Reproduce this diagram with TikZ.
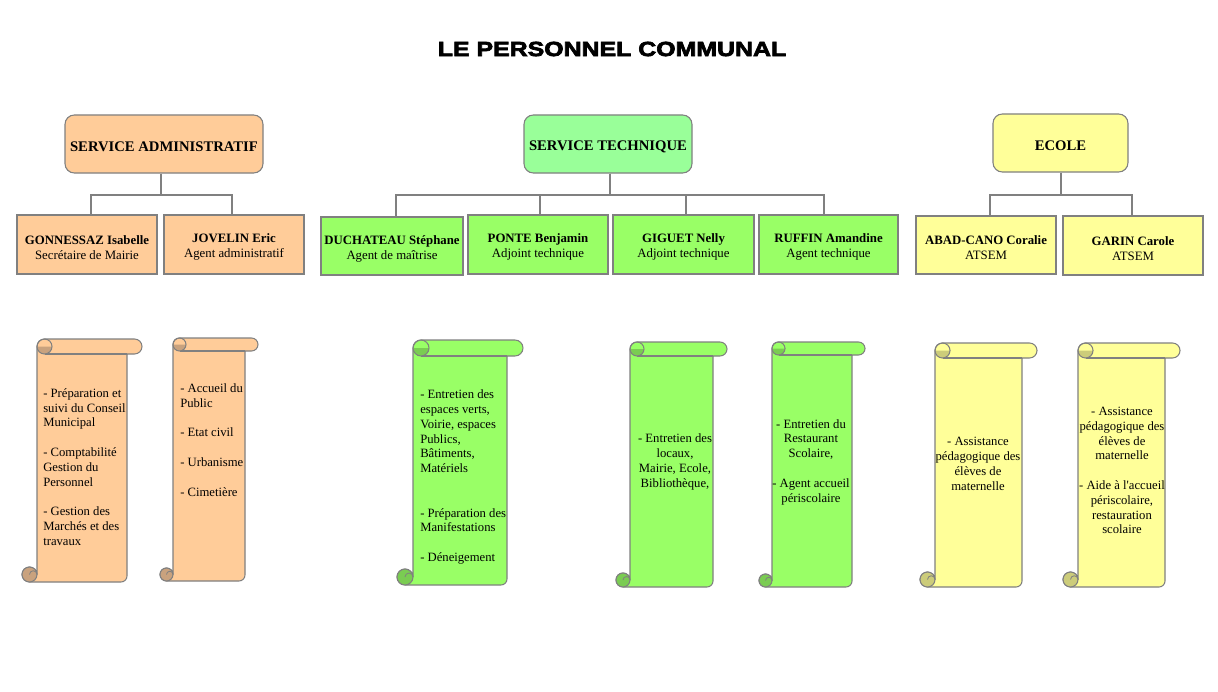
\documentclass[tikz,border=0pt]{standalone}
\usepackage{fontspec}
\setmainfont{Liberation Serif}
\newfontfamily\titlefont{Liberation Sans}[UprightFont=* Bold, FakeStretch=1.22, FakeBold=3.5]
\definecolor{peach}{HTML}{FFCC99}
\definecolor{peachD}{HTML}{C9A27E}
\definecolor{lgreen}{HTML}{99FF99}
\definecolor{green2}{HTML}{99FF66}
\definecolor{greenD}{HTML}{7ACC52}
\definecolor{yel}{HTML}{FFFF99}
\definecolor{yelD}{HTML}{CCCC7A}
\definecolor{edge}{HTML}{808080}
\newcommand\vscroll[7]{% L T R B h fill dark
  \filldraw[draw=edge, fill=#6, line width=0.8pt]
    (#1,{#2+#5/2}) arc[start angle=180,end angle=270,radius=#5/2]
    -- ({#3-#5/2},#2) arc[start angle=270,end angle=450,radius=#5/2]
    -- ({#3-#5},{#2+#5}) -- ({#3-#5},{#4-6}) arc[start angle=0,end angle=90,radius=6]
    -- ({#1-#5/2},#4) arc[start angle=90,end angle=360,radius=#5/2] -- cycle;
  \draw[edge, line width=0.8pt] ({#1+#5/2},{#2+#5}) -- ({#3-#5},{#2+#5});
  \fill[#7] (#1,{#2+#5/2}) arc[start angle=180,end angle=0,radius=#5/2] -- cycle;
  \draw[edge, line width=0.8pt] ({#1+#5/2},{#2+#5/2}) circle[radius=#5/2];
  \filldraw[draw=edge, fill=#7, line width=0.8pt] ({#1-#5/2},{#4-#5/2}) circle[radius=#5/2];
  \draw[edge, line width=0.6pt] ({#1-#5/2},{#4-#5/2}) arc[start angle=180,end angle=360,radius=#5/4];
}
\newcommand\hs{\rule{0pt}{11.8pt}}
\newcommand\ps{\rule{0pt}{11pt}}
\tikzset{
  sz/.style 2 args={minimum width=#1*0.75pt, minimum height=#2*0.75pt},
  head/.style={draw=edge, line width=0.8pt, rounded corners=7pt, inner sep=0pt,
    font=\fontsize{11}{13}\selectfont\bfseries},
  person/.style={draw=edge, line width=0.8pt, inner sep=0pt, align=center,
    font=\fontsize{9.6}{11.25}\selectfont},
  stxt/.style={inner sep=0pt, font=\fontsize{9.5}{11.1}\selectfont},
  link/.style={draw=edge, line width=0.8pt},
}
\begin{document}
\begin{tikzpicture}[x=0.75pt, y=-0.75pt]
\useasboundingbox[fill=white] (0,0) rectangle (1218,692);

\node[font=\titlefont\fontsize{15.3}{18}\selectfont] (title) at (612,49) {LE PERSONNEL COMMUNAL};

% headers
\node[head, fill=peach, sz={198}{58}] (adm) at (164,144) {\hs SERVICE ADMINISTRATIF};
\node[head, fill=lgreen, sz={168}{58}] (tec) at (608,144) {\hs SERVICE TECHNIQUE};
\node[head, fill=yel, sz={135}{58}] (eco) at (1060.5,143) {\hs ECOLE};

% persons
\node[person, fill=peach, sz={140}{59}] (c1) at (87,244.5) {\ps\textbf{GONNESSAZ Isabelle}\\Secrétaire de Mairie};
\node[person, fill=peach, sz={140}{59}] (c2) at (234,244.5) {\ps\textbf{JOVELIN Eric}\\Agent administratif};
\node[person, fill=green2, sz={142}{58}] (c3) at (392,246) {\ps\textbf{DUCHATEAU Stéphane}\\Agent de maîtrise};
\node[person, fill=green2, sz={140}{59}] (c4) at (538,244.5) {\ps\textbf{PONTE Benjamin}\\Adjoint technique};
\node[person, fill=green2, sz={141}{59}] (c5) at (683.5,244.5) {\ps\textbf{GIGUET Nelly}\\Adjoint technique};
\node[person, fill=green2, sz={139}{59}] (c6) at (828.5,244.5) {\ps\textbf{RUFFIN Amandine}\\Agent technique};
\node[person, fill=yel, sz={140}{58}] (c7) at (986,245) {\ps\textbf{ABAD-CANO Coralie}\\ATSEM};
\node[person, fill=yel, sz={140}{59}] (c8) at (1133,245.5) {\ps\textbf{GARIN Carole}\\ATSEM};

% connectors
\coordinate (bus) at (0,195);
\foreach \h/\hx/\c/\cx in {adm/161/c1/91, adm/161/c2/232, tec/610/c3/396, tec/610/c4/540,
    tec/610/c5/686, tec/610/c6/824, eco/1061/c7/990, eco/1061/c8/1132}{
  \draw[link] (\h.south -| \hx,0) -- (bus -| \hx,0) -| (\c.north -| \cx,0);
}

% scrolls
\vscroll{37}{339}{142}{582}{15}{peach}{peachD}
\vscroll{173}{338}{258}{581}{13}{peach}{peachD}
\vscroll{413}{340}{523}{585}{16}{green2}{greenD}
\vscroll{630}{342}{727}{587}{14}{green2}{greenD}
\vscroll{772}{342}{865}{587}{13}{green2}{greenD}
\vscroll{935}{343}{1037}{587}{15}{yel}{yelD}
\vscroll{1078}{343}{1180}{587}{15}{yel}{yelD}

% scroll texts
\node[stxt, align=left, anchor=west] (s1) at (43,467) {- Préparation et\\suivi du Conseil\\Municipal\\~\\- Comptabilité\\Gestion du\\Personnel\\~\\- Gestion des\\Marchés et des\\travaux};
\node[stxt, align=left, anchor=west] (s2) at (180,440) {- Accueil du\\Public\\~\\- Etat civil\\~\\- Urbanisme\\~\\- Cimetière};
\node[stxt, align=left, anchor=west] (s3) at (420,477) {- Entretien des\\espaces verts,\\Voirie, espaces\\Publics,\\Bâtiments,\\Matériels\\~\\~\\- Préparation des\\Manifestations\\~\\- Déneigement};
\node[stxt, align=center] (s4) at (675,462) {- Entretien des\\locaux,\\Mairie, Ecole,\\Bibliothèque,};
\node[stxt, align=center] (s5) at (811,462) {- Entretien du\\Restaurant\\Scolaire,\\~\\- Agent accueil\\périscolaire};
\node[stxt, align=center] (s6) at (978,464) {- Assistance\\pédagogique des\\élèves de\\maternelle};
\node[stxt, align=center] (s7) at (1122,470.5) {- Assistance\\pédagogique des\\élèves de\\maternelle\\~\\- Aide à l\textquotesingle accueil\\périscolaire,\\restauration\\scolaire};
\end{tikzpicture}
\end{document}
